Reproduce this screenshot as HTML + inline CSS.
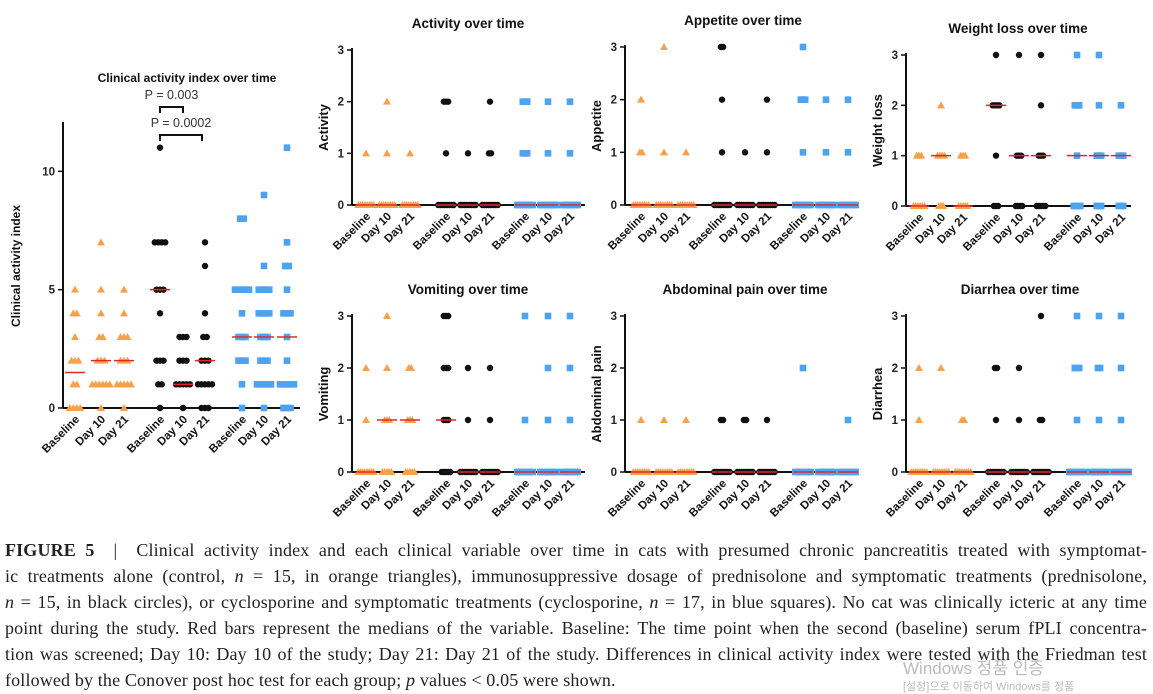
<!DOCTYPE html>
<html><head><meta charset="utf-8">
<style>
body{margin:0;background:#fff;width:1153px;height:692px;overflow:hidden;position:relative;font-family:"Liberation Sans",sans-serif}
#cap{position:absolute;left:5px;top:537px;width:1142px;font-family:"Liberation Serif",serif;font-size:18px;line-height:26px;color:#222}
#cap div{text-align:justify;text-align-last:justify;white-space:nowrap;letter-spacing:0.15px}
#cap div.last{text-align-last:left}
#wm{position:absolute;left:903px;top:654px;color:#bbb;font-size:17px;font-family:"Liberation Sans","Noto Sans CJK KR",sans-serif}
#wm2{position:absolute;left:903px;top:678px;color:#bbb;font-size:11px;font-family:"Liberation Sans","Noto Sans CJK KR",sans-serif}
</style></head><body>
<svg id="fig" width="1153" height="535" style="position:absolute;left:0;top:0"></svg>
<div id="cap">
<div><b>FIGURE 5</b> &nbsp;|&nbsp; Clinical activity index and each clinical variable over time in cats with presumed chronic pancreatitis treated with symptomat-</div>
<div>ic treatments alone (control, <i>n</i> = 15, in orange triangles), immunosuppressive dosage of prednisolone and symptomatic treatments (prednisolone,</div>
<div><i>n</i> = 15, in black circles), or cyclosporine and symptomatic treatments (cyclosporine, <i>n</i> = 17, in blue squares). No cat was clinically icteric at any time</div>
<div>point during the study. Red bars represent the medians of the variable. Baseline: The time point when the second (baseline) serum fPLI concentra-</div>
<div>tion was screened; Day 10: Day 10 of the study; Day 21: Day 21 of the study. Differences in clinical activity index were tested with the Friedman test</div>
<div class="last">followed by the Conover post hoc test for each group; <i>p</i> values &lt; 0.05 were shown.</div>
</div>
<div id="wm">Windows 정품 인증</div>
<div id="wm2">[설정]으로 이동하여 Windows를 정품</div>
<script>
// groups: orange B,D10,D21, black B,D10,D21, blue B,D10,D21 ; each group: [value,count] pairs
const timeLabels=["Baseline","Day 10","Day 21"];
const ciaData=[
 [[0,4],[1,2],[2,3],[3,1],[4,2],[5,1]],[[0,1],[1,6],[2,3],[3,2],[4,1],[5,1],[7,1]],[[0,1],[1,5],[2,3],[3,3],[4,1],[5,1]],
 [[0,1],[1,2],[2,3],[4,1],[5,3],[7,4],[11,1]],[[0,1],[1,5],[2,3],[3,3]],[[0,3],[1,5],[2,3],[3,2],[4,1],[6,1],[7,1]],
 [[0,1],[1,1],[2,3],[3,3],[4,1],[5,5],[8,2]],[[0,1],[1,5],[2,3],[3,3],[4,4],[5,4],[6,1],[9,1]],[[0,3],[1,5],[2,1],[3,1],[4,3],[5,1],[6,2],[7,1],[11,1]]];
const ciaMedians=[1.5,2,2,5,1,2,3,3,3];
const activityData=[[[0,8],[1,1]],[[0,8],[1,1],[2,1]],[[0,8],[1,1]],[[0,8],[1,1],[2,3]],[[0,8],[1,1]],[[0,8],[1,2],[2,1]],[[0,8],[1,3],[2,3]],[[0,8],[1,1],[2,1]],[[0,8],[1,1],[2,1]]];
const activityMedians=[0,0,0,0,0,0,0,0,0];
const appetiteData=[[[0,8],[1,2],[2,1]],[[0,8],[1,1],[3,1]],[[0,8],[1,1]],[[0,8],[1,1],[2,1],[3,2]],[[0,8],[1,1]],[[0,8],[1,1],[2,1]],[[0,8],[1,1],[2,3],[3,1]],[[0,8],[1,1],[2,1]],[[0,8],[1,1],[2,1]]];
const appetiteMedians=[0,0,0,0,0,0,0,0,0];
const weightData=[[[0,6],[1,3]],[[0,3],[1,4],[2,1]],[[0,5],[1,3]],[[0,3],[1,1],[2,4],[3,1]],[[0,4],[1,3],[3,1]],[[0,5],[1,3],[2,1],[3,1]],[[0,4],[1,1],[2,3],[3,1]],[[0,3],[1,3],[2,1],[3,1]],[[0,3],[1,3],[2,1]]];
const weightMedians=[0,1,0,2,1,1,1,1,1];
const vomitData=[[[0,8],[1,1],[2,1]],[[0,5],[1,3],[2,1],[3,1]],[[0,5],[1,3],[2,2]],[[0,5],[1,3],[2,3],[3,3]],[[0,8],[1,1],[2,1]],[[0,8],[1,1],[2,1]],[[0,8],[1,1],[3,1]],[[0,8],[1,1],[2,1],[3,1]],[[0,8],[1,1],[2,1],[3,1]]];
const vomitMedians=[0,1,1,1,0,0,0,0,0];
const abdData=[[[0,8],[1,1]],[[0,8],[1,1]],[[0,8],[1,1]],[[0,8],[1,2]],[[0,8],[1,2]],[[0,8],[1,1]],[[0,8],[2,1]],[[0,8]],[[0,8],[1,1]]];
const abdMedians=[0,0,0,0,0,0,0,0,0];
const diarrData=[[[0,8],[1,1],[2,1]],[[0,8],[2,1]],[[0,8],[1,2]],[[0,8],[1,1],[2,2]],[[0,8],[1,1],[2,1]],[[0,8],[1,2],[3,1]],[[0,8],[1,1],[2,3],[3,1]],[[0,8],[1,1],[2,2],[3,1]],[[0,8],[1,1],[2,1],[3,1]]];
const diarrMedians=[0,0,0,0,0,0,0,0,0];

const NS="http://www.w3.org/2000/svg";
const svg=document.getElementById('fig');
function mk(tag,attrs,parent,text){const e=document.createElementNS(NS,tag);for(const k in attrs)e.setAttribute(k,attrs[k]);if(text!==undefined)e.textContent=text;(parent||svg).appendChild(e);return e;}
const colors=["#f7a24a","#111","#4da3f0"];
function panel(cfg){
 const g=mk('g',{});
 
 
 const yS=v=>cfg.y0-(v/cfg.ymax)*(cfg.y0-cfg.yTop);
 const ax=mk('line',{x1:cfg.ox,y1:cfg.yTop-2,x2:cfg.ox,y2:cfg.y0,stroke:'#111','stroke-width':2},g);
 
 
 const xa=mk('line',{x1:cfg.ox,y1:cfg.y0,x2:cfg.xEnd,y2:cfg.y0,stroke:'#111','stroke-width':2},g);
 
 
 cfg.ticks.forEach(t=>{
  const y=yS(t);
  mk('line',{x1:cfg.ox-5,y1:y,x2:cfg.ox,y2:y,stroke:'#111','stroke-width':1.5},g);
  const tl=mk('text',{x:cfg.ox-8,y:y+4,'text-anchor':'end','font-size':11.5,'font-weight':'bold',fill:'#222'},g,t);
  
  
 });
 const tt=mk('text',{x:cfg.tx,y:cfg.ty,'text-anchor':'middle','font-size':cfg.tfs||13.5,'font-weight':'bold',fill:'#111'},g,cfg.title);
 
 
 const yt=mk('text',{x:0,y:0,'text-anchor':'middle','font-size':cfg.yfs||13,'font-weight':'bold',fill:'#111',transform:`translate(${cfg.ylx},${(cfg.y0+cfg.yTop)/2}) rotate(-90)`},g,cfg.ylabel);
 
 
 cfg.data.forEach((grp,gi)=>{
  const cx=cfg.xs[gi],col=colors[Math.floor(gi/3)],kind=Math.floor(gi/3);
  grp.forEach(([v,c])=>{
   const y=yS(v);const sp=Math.min(c,cfg.maxSpread||8);
   for(let k=0;k<sp;k++){
    const x=cx+(k-(sp-1)/2)*cfg.dx;
    let m;
    if(kind===0)m=mk('polygon',{points:`${x},${y-4} ${x-4},${y+3} ${x+4},${y+3}`,fill:col},g);
    else if(kind===1)m=mk('circle',{cx:x,cy:y,r:3.2,fill:col},g);
    else m=mk('rect',{x:x-3.3,y:y-3.3,width:6.6,height:6.6,fill:col},g);
    
    
   }
  });
  const my=yS(cfg.medians[gi]);
  const md=mk('line',{x1:cx-10,y1:my,x2:cx+10,y2:my,stroke:'#e3262b','stroke-width':1.5},g);
  
  
  const lb=mk('text',{x:0,y:0,'text-anchor':'end','font-size':11.5,'font-weight':'bold',fill:'#111',transform:`translate(${cx+5},${cfg.y0+12}) rotate(-45)`},g,timeLabels[gi%3]);
  
  
 });
 return yS;
}
panel({name:'clinical-activity-index-chart',ox:63,y0:408,yTop:124,ymax:12,xEnd:300,ticks:[0,5,10],title:'Clinical activity index over time',tx:187,ty:82,tfs:12,ylabel:'Clinical activity index',ylx:20,yfs:12,data:ciaData,medians:ciaMedians,xs:[75,101,124,160,183,205,242,264,287],dx:3.5,maxSpread:6});
// significance brackets
[[160,183,107,'P = 0.003',99],[160,202,135,'P = 0.0002',127]].forEach(b=>{
 const br=mk('path',{d:`M${b[0]},${b[2]+6} V${b[2]} H${b[1]} V${b[2]+6}`,fill:'none',stroke:'#111','stroke-width':2});
 
 
 const pt=mk('text',{x:(b[0]+b[1])/2,y:b[4],'text-anchor':'middle','font-size':12.5,fill:'#333'},svg,b[3]);
 
 
});
const colXs=[[366,387,410,446,468,490,525,548,570],[641,664,686,722,745,767,803,826,848],[919,941,963,996,1019,1041,1077,1099,1121]];
panel({name:'activity-chart',ox:352,y0:205,yTop:50,ymax:3,xEnd:585,ticks:[0,1,2,3],title:'Activity over time',tx:468,ty:28,ylabel:'Activity',ylx:328,data:activityData,medians:activityMedians,xs:colXs[0],dx:2.2});
panel({name:'appetite-chart',ox:625,y0:205,yTop:47,ymax:3,xEnd:858,ticks:[0,1,2,3],title:'Appetite over time',tx:743,ty:25,ylabel:'Appetite',ylx:601,data:appetiteData,medians:appetiteMedians,xs:colXs[1],dx:2.2});
panel({name:'weight-loss-chart',ox:906,y0:206,yTop:55,ymax:3,xEnd:1131,ticks:[0,1,2,3],title:'Weight loss over time',tx:1018,ty:33,ylabel:'Weight loss',ylx:882,data:weightData,medians:weightMedians,xs:colXs[2],dx:2.2});
panel({name:'vomiting-chart',ox:352,y0:472,yTop:316,ymax:3,xEnd:585,ticks:[0,1,2,3],title:'Vomiting over time',tx:468,ty:294,ylabel:'Vomiting',ylx:328,data:vomitData,medians:vomitMedians,xs:colXs[0],dx:2.2});
panel({name:'abdominal-pain-chart',ox:625,y0:472,yTop:316,ymax:3,xEnd:858,ticks:[0,1,2,3],title:'Abdominal pain over time',tx:745,ty:294,ylabel:'Abdominal pain',ylx:601,data:abdData,medians:abdMedians,xs:colXs[1],dx:2.2});
panel({name:'diarrhea-chart',ox:906,y0:472,yTop:316,ymax:3,xEnd:1131,ticks:[0,1,2,3],title:'Diarrhea over time',tx:1020,ty:294,ylabel:'Diarrhea',ylx:882,data:diarrData,medians:diarrMedians,xs:colXs[2],dx:2.2});
</script>
</body></html>
